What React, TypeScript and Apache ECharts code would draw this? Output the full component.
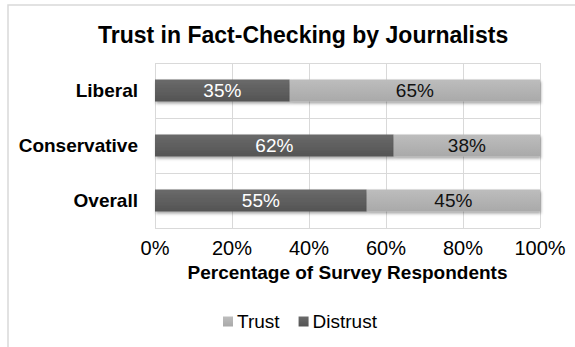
import React, { useEffect, useRef } from "react";
import * as echarts from "echarts";

const categories = ["Liberal", "Conservative", "Overall"];
const distrust = [35, 62, 55];
const trust = [65, 38, 45];
const ticks = [0, 20, 40, 60, 80, 100];

const FONT = "'Liberation Sans', Arial, sans-serif";

export default function App() {
  const ref = useRef<HTMLDivElement>(null);
  useEffect(() => {
    const chart = echarts.init(ref.current!, null, { renderer: "svg" });
    const darkGrad = new echarts.graphic.LinearGradient(0, 0, 0, 1, [
      { offset: 0, color: "#6a6a6a" },
      { offset: 1, color: "#545454" },
    ]);
    const lightGrad = new echarts.graphic.LinearGradient(0, 0, 0, 1, [
      { offset: 0, color: "#bdbdbd" },
      { offset: 1, color: "#a9a9a9" },
    ]);
    chart.setOption({
      animation: false,
      backgroundColor: "#ffffff",
      textStyle: { fontFamily: FONT },
      title: {
        text: "Trust in Fact-Checking by Journalists",
        left: 98,
        top: 23,
        padding: 0,
        textStyle: { fontFamily: FONT, fontSize: 23, fontWeight: "bold", color: "#000" },
      },
      graphic: [
        {
          type: "rect",
          shape: { x: 8, y: 5, width: 620, height: 400 },
          style: { fill: "none", stroke: "#d9d9d9", lineWidth: 1.5 },
          silent: true,
        },
      ],
      legend: {
        data: ["Trust", "Distrust"],
        left: 223,
        top: 312,
        padding: 0,
        itemWidth: 10,
        itemHeight: 10,
        itemGap: 19,
        icon: "rect",
        textStyle: { fontFamily: FONT, fontSize: 19, color: "#000", padding: [0, 0, 0, -1] },
        itemStyle: { shadowBlur: 0, shadowOffsetX: 0, shadowOffsetY: 0 },
      },
      grid: { left: 155, right: 35, top: 63, bottom: 119, containLabel: false },
      xAxis: {
        type: "value",
        min: ticks[0],
        max: ticks[ticks.length - 1],
        interval: 20,
        axisLine: { show: false },
        axisTick: { show: false },
        axisLabel: {
          formatter: "{value}%",
          fontFamily: FONT,
          fontSize: 20,
          color: "#000",
          margin: 10,
        },
        splitLine: { show: true, lineStyle: { color: "#d9d9d9", width: 1 } },
        name: "Percentage of Survey Respondents",
        nameLocation: "middle",
        nameGap: 35,
        nameTextStyle: { fontFamily: FONT, fontSize: 19, fontWeight: "bold", color: "#000" },
      },
      yAxis: {
        type: "category",
        data: categories,
        inverse: true,
        axisLine: { show: false },
        axisTick: { show: false },
        axisLabel: {
          fontFamily: FONT,
          fontSize: 19,
          fontWeight: "bold",
          color: "#000",
          margin: 17,
        },
        splitLine: { show: true, lineStyle: { color: "#d9d9d9", width: 1 } },
      },
      series: [
        {
          name: "Distrust",
          type: "bar",
          stack: "total",
          data: distrust,
          barWidth: 22,
          itemStyle: {
            color: darkGrad,
            shadowBlur: 3,
            shadowOffsetX: 1,
            shadowOffsetY: 2,
            shadowColor: "rgba(0,0,0,0.35)",
          },
          label: {
            show: true,
            position: "inside",
            formatter: "{c}%",
            fontFamily: FONT,
            fontSize: 19,
            color: "#ffffff",
          },
        },
        {
          name: "Trust",
          type: "bar",
          stack: "total",
          data: trust,
          barWidth: 22,
          itemStyle: {
            color: lightGrad,
            shadowBlur: 3,
            shadowOffsetX: 1,
            shadowOffsetY: 2,
            shadowColor: "rgba(0,0,0,0.35)",
          },
          label: {
            show: true,
            position: "inside",
            formatter: "{c}%",
            fontFamily: FONT,
            fontSize: 19,
            color: "#111111",
          },
        },
      ],
    });
    return () => chart.dispose();
  }, []);
  return (
    <div
      ref={ref}
      style={{ position: "fixed", left: 0, top: 0, width: 575, height: 347 }}
    />
  );
}
